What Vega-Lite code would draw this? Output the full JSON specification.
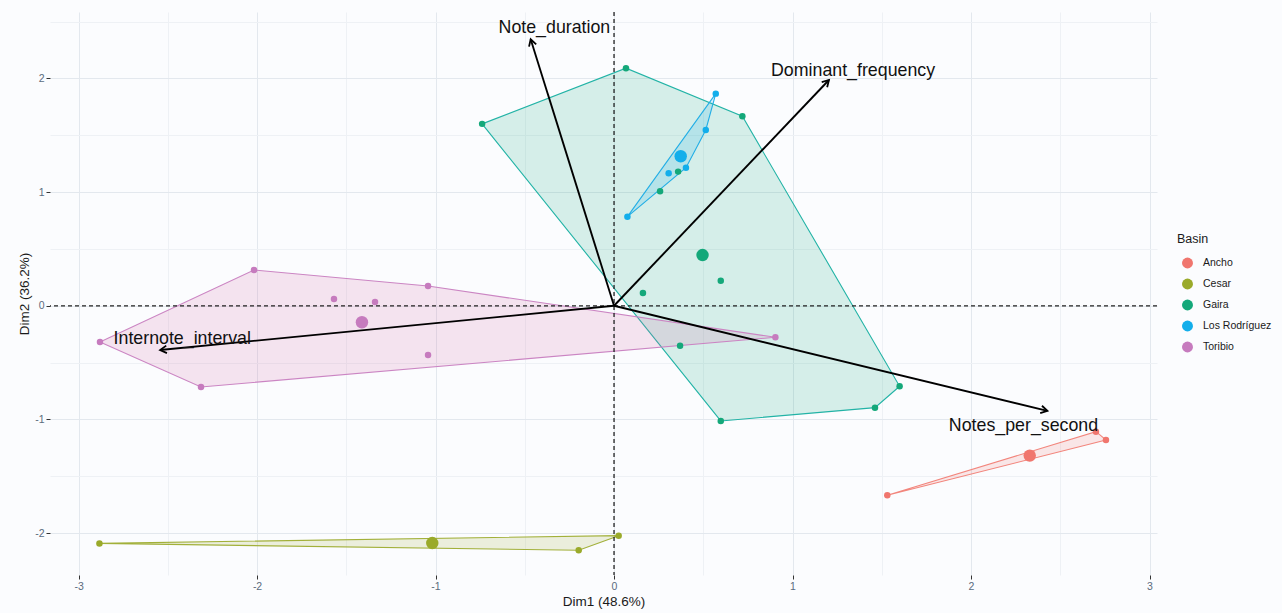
{
  "$schema": "https://vega.github.io/schema/vega-lite/v6.json",
  "width": 1107,
  "height": 563,
  "autosize": {"type": "none"},
  "padding": {"left": 50, "top": 12, "right": 125, "bottom": 38},
  "background": "#fbfcfe",
  "config": {
    "view": {"stroke": null},
    "font": "Liberation Sans",
    "axis": {
      "grid": true, "domain": false,
      "tickSize": 4, "tickColor": "#333333", "tickWidth": 1,
      "labelColor": "#5a6b7d", "labelFontSize": 10.5, "labelPadding": 2,
      "titleFontSize": 13.5, "titleColor": "#1a1a1a", "titleFontWeight": "normal", "titlePadding": 3
    },
    "legend": {
      "orient": "none", "legendX": 1127, "legendY": 221,
      "symbolType": "circle", "symbolSize": 120, "symbolStrokeWidth": 0, "symbolOffset": 5,
      "titleFontSize": 12.5, "titleFontWeight": "normal", "titleColor": "#1a1a1a", "titlePadding": 12,
      "labelFontSize": 10.5, "labelColor": "#1a1a1a", "labelOffset": 10, "rowPadding": 10
    }
  },
  "datasets": {
    "pts": [
      {"Basin": "Ancho", "Dim1": 1.531, "Dim2": -1.667, "hull": 1},
      {"Basin": "Ancho", "Dim1": 2.700, "Dim2": -1.107, "hull": 2},
      {"Basin": "Ancho", "Dim1": 2.756, "Dim2": -1.180, "hull": 3},
      {"Basin": "Cesar", "Dim1": -2.883, "Dim2": -2.090, "hull": 1},
      {"Basin": "Cesar", "Dim1": 0.026, "Dim2": -2.022, "hull": 2},
      {"Basin": "Cesar", "Dim1": -0.198, "Dim2": -2.150, "hull": 3},
      {"Basin": "Gaira", "Dim1": -0.739, "Dim2": 1.600, "hull": 1},
      {"Basin": "Gaira", "Dim1": 0.067, "Dim2": 2.090, "hull": 2},
      {"Basin": "Gaira", "Dim1": 0.719, "Dim2": 1.667, "hull": 3},
      {"Basin": "Gaira", "Dim1": 1.600, "Dim2": -0.708, "hull": 4},
      {"Basin": "Gaira", "Dim1": 1.462, "Dim2": -0.896, "hull": 5},
      {"Basin": "Gaira", "Dim1": 0.598, "Dim2": -1.013, "hull": 6},
      {"Basin": "Gaira", "Dim1": 0.370, "Dim2": -0.351, "hull": null},
      {"Basin": "Gaira", "Dim1": 0.162, "Dim2": 0.113, "hull": null},
      {"Basin": "Gaira", "Dim1": 0.598, "Dim2": 0.221, "hull": null},
      {"Basin": "Gaira", "Dim1": 0.258, "Dim2": 1.007, "hull": null},
      {"Basin": "Gaira", "Dim1": 0.359, "Dim2": 1.180, "hull": null},
      {"Basin": "Los Rodríguez", "Dim1": 0.075, "Dim2": 0.784, "hull": 1},
      {"Basin": "Los Rodríguez", "Dim1": 0.570, "Dim2": 1.866, "hull": 2},
      {"Basin": "Los Rodríguez", "Dim1": 0.514, "Dim2": 1.546, "hull": 3},
      {"Basin": "Los Rodríguez", "Dim1": 0.403, "Dim2": 1.215, "hull": 4},
      {"Basin": "Los Rodríguez", "Dim1": 0.306, "Dim2": 1.165, "hull": null},
      {"Basin": "Toribio", "Dim1": -2.880, "Dim2": -0.318, "hull": 1},
      {"Basin": "Toribio", "Dim1": -2.017, "Dim2": 0.315, "hull": 2},
      {"Basin": "Toribio", "Dim1": -1.042, "Dim2": 0.174, "hull": 3},
      {"Basin": "Toribio", "Dim1": 0.904, "Dim2": -0.277, "hull": 4},
      {"Basin": "Toribio", "Dim1": -2.314, "Dim2": -0.714, "hull": 5},
      {"Basin": "Toribio", "Dim1": -1.569, "Dim2": 0.060, "hull": null},
      {"Basin": "Toribio", "Dim1": -1.339, "Dim2": 0.033, "hull": null},
      {"Basin": "Toribio", "Dim1": -1.042, "Dim2": -0.432, "hull": null}
    ],
    "vars": [
      {"name": "Note_duration", "Dim1": -0.467, "Dim2": 2.344, "lab_x": -0.334, "lab_y": 2.441},
      {"name": "Dominant_frequency", "Dim1": 1.204, "Dim2": 1.986, "lab_x": 1.339, "lab_y": 2.065},
      {"name": "Internote_interval", "Dim1": -2.543, "Dim2": -0.389, "lab_x": -2.419, "lab_y": -0.295},
      {"name": "Notes_per_second", "Dim1": 2.428, "Dim2": -0.925, "lab_x": 2.294, "lab_y": -1.058}
    ],
    "origin": [{"Dim1": 0, "Dim2": 0}]
  },
  "layer": [
    {
      "data": {"name": "pts"},
      "transform": [{"filter": "isValid(datum.hull)"}],
      "mark": {"type": "line", "interpolate": "linear-closed", "strokeWidth": 1.1, "fillOpacity": 0.16},
      "encoding": {
        "x": {
          "field": "Dim1", "type": "quantitative", "title": "Dim1 (48.6%)",
          "scale": {"domain": [-3.16, 3.042], "nice": false, "zero": false},
          "axis": {
            "values": [-3, -2.5, -2, -1.5, -1, -0.5, 0, 0.5, 1, 1.5, 2, 2.5, 3],
            "labelExpr": "datum.value % 1 === 0 ? '' + datum.value : ''",
            "tickOpacity": {"condition": {"test": "datum.value % 1 !== 0", "value": 0}, "value": 1},
            "gridColor": {"condition": {"test": "datum.value % 1 !== 0", "value": "#eef1f5"}, "value": "#e3e8ee"}
          }
        },
        "y": {
          "field": "Dim2", "type": "quantitative", "title": "Dim2 (36.2%)",
          "scale": {"domain": [-2.368, 2.584], "nice": false, "zero": false},
          "axis": {
            "values": [-2, -1.5, -1, -0.5, 0, 0.5, 1, 1.5, 2, 2.5],
            "labelExpr": "datum.value % 1 === 0 ? '' + datum.value : ''",
            "tickOpacity": {"condition": {"test": "datum.value % 1 !== 0", "value": 0}, "value": 1},
            "gridColor": {"condition": {"test": "datum.value % 1 !== 0", "value": "#eef1f5"}, "value": "#e3e8ee"}
          }
        },
        "stroke": {
          "field": "Basin", "type": "nominal", "legend": null,
          "scale": {"domain": ["Toribio", "Los Rodríguez", "Gaira", "Cesar", "Ancho"], "range": ["#cb85c3", "#22aee6", "#22b3a6", "#a2b03a", "#f2857c"]}
        },
        "fill": {
          "field": "Basin", "type": "nominal", "legend": null,
          "scale": {"domain": ["Gaira", "Ancho", "Cesar", "Toribio", "Los Rodríguez"], "range": ["#14a87a", "#f0766e", "#9aaa2a", "#d2619f", "#12aeeb"]}
        },
        "order": {"field": "hull", "type": "quantitative"}
      }
    },
    {
      "data": {"name": "origin"},
      "mark": {"type": "rule", "strokeDash": [4, 3], "strokeWidth": 1.3, "color": "#222222"},
      "encoding": {"x": {"field": "Dim1", "type": "quantitative", "title": "Dim1 (48.6%)"}}
    },
    {
      "data": {"name": "origin"},
      "mark": {"type": "rule", "strokeDash": [4, 3], "strokeWidth": 1.3, "color": "#222222"},
      "encoding": {"y": {"field": "Dim2", "type": "quantitative", "title": "Dim2 (36.2%)"}}
    },
    {
      "data": {"name": "pts"},
      "mark": {"type": "point", "filled": true, "size": 42, "opacity": 1},
      "encoding": {
        "x": {"field": "Dim1", "type": "quantitative", "title": "Dim1 (48.6%)"},
        "y": {"field": "Dim2", "type": "quantitative", "title": "Dim2 (36.2%)"},
        "color": {
          "field": "Basin", "type": "nominal", "title": "Basin",
          "scale": {"domain": ["Ancho", "Cesar", "Gaira", "Los Rodríguez", "Toribio"], "range": ["#f0766e", "#9aaa2a", "#14a87a", "#12aeeb", "#c67bbe"]}
        }
      }
    },
    {
      "data": {"name": "pts"},
      "transform": [{"aggregate": [{"op": "mean", "field": "Dim1", "as": "Dim1"}, {"op": "mean", "field": "Dim2", "as": "Dim2"}], "groupby": ["Basin"]}],
      "mark": {"type": "point", "filled": true, "size": 155, "opacity": 1},
      "encoding": {
        "x": {"field": "Dim1", "type": "quantitative", "title": "Dim1 (48.6%)"},
        "y": {"field": "Dim2", "type": "quantitative", "title": "Dim2 (36.2%)"},
        "color": {"field": "Basin", "type": "nominal", "title": "Basin"}
      }
    },
    {
      "data": {"name": "vars"},
      "mark": {"type": "rule", "strokeWidth": 1.9, "color": "#000000"},
      "encoding": {
        "x": {"field": "Dim1", "type": "quantitative", "title": "Dim1 (48.6%)"},
        "y": {"field": "Dim2", "type": "quantitative", "title": "Dim2 (36.2%)"},
        "x2": {"datum": 0},
        "y2": {"datum": 0}
      }
    },
    {
      "data": {"name": "vars"},
      "transform": [{"calculate": "atan2(datum.Dim1 * 178.5, datum.Dim2 * 113.7) * 180 / PI", "as": "heading"}],
      "mark": {"type": "point", "shape": "M-0.577,1L0,0L0.577,1", "filled": false, "size": 169, "strokeWidth": 1.8, "color": "#000000", "opacity": 1},
      "encoding": {
        "x": {"field": "Dim1", "type": "quantitative", "title": "Dim1 (48.6%)"},
        "y": {"field": "Dim2", "type": "quantitative", "title": "Dim2 (36.2%)"},
        "angle": {"field": "heading", "type": "quantitative", "scale": null}
      }
    },
    {
      "data": {"name": "vars"},
      "mark": {"type": "text", "fontSize": 17.8, "color": "#111111", "align": "center", "baseline": "middle"},
      "encoding": {
        "x": {"field": "lab_x", "type": "quantitative", "title": "Dim1 (48.6%)"},
        "y": {"field": "lab_y", "type": "quantitative", "title": "Dim2 (36.2%)"},
        "text": {"field": "name"}
      }
    }
  ]
}
